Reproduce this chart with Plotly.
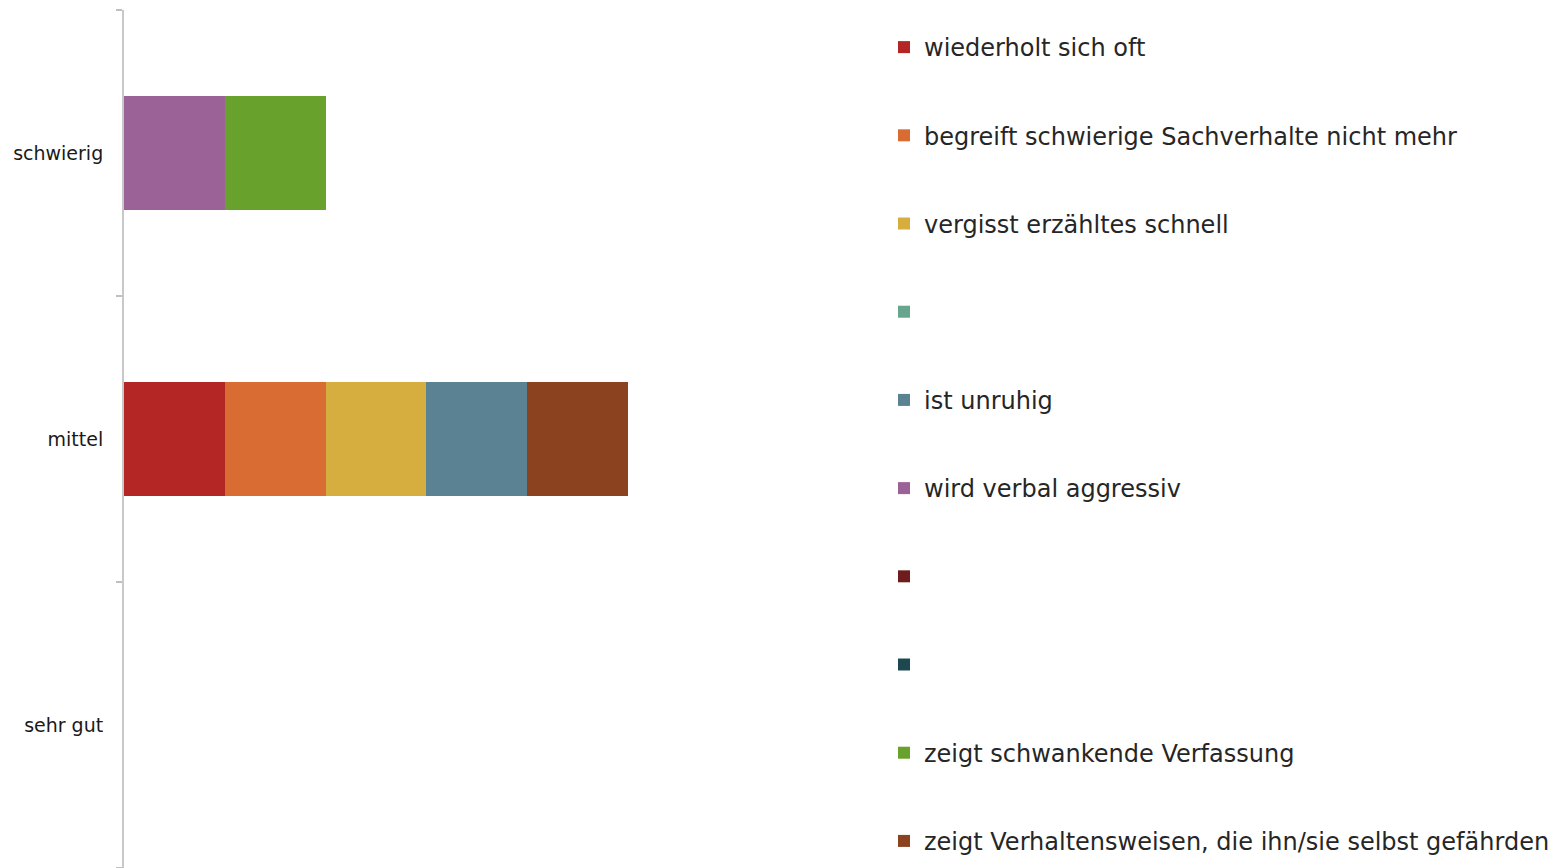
import plotly.graph_objects as go

categories = ["sehr gut", "mittel", "schwierig"]

series_names = [
    "wiederholt sich oft",
    "begreift schwierige Sachverhalte nicht mehr",
    "vergisst erzähltes schnell",
    " ",
    "ist unruhig",
    "wird verbal aggressiv",
    "  ",
    "   ",
    "zeigt schwankende Verfassung",
    "zeigt Verhaltensweisen, die ihn/sie selbst gefährden",
]

# values per series for [sehr gut, mittel, schwierig]
wiederholt = [0, 1, 0]
begreift = [0, 1, 0]
vergisst = [0, 1, 0]
leer1 = [0, 0, 0]
unruhig = [0, 1, 0]
aggressiv = [0, 0, 1]
leer2 = [0, 0, 0]
leer3 = [0, 0, 0]
schwankend = [0, 0, 1]
gefaehrden = [0, 1, 0]

series_values = [wiederholt, begreift, vergisst, leer1, unruhig,
                 aggressiv, leer2, leer3, schwankend, gefaehrden]

colors = ["#B42626", "#D86C32", "#D6AE40", "#68A58F", "#5A8293",
          "#9A6297", "#6E1C1C", "#1E4850", "#68A12B", "#8A421F"]

fig = go.Figure()
for i, (name, vals, col) in enumerate(zip(series_names, series_values, colors)):
    fig.add_trace(go.Bar(
        y=categories, x=vals, name=name, orientation="h",
        marker=dict(color=col, line=dict(width=0)),
        legendgroup=f"g{i}",
    ))

fig.update_layout(
    width=1566, height=868,
    barmode="stack",
    bargap=0.6,
    paper_bgcolor="white", plot_bgcolor="white",
    margin=dict(l=124, r=686, t=10, b=0),
    font=dict(family="DejaVu Sans", color="#222222"),
    showlegend=True,
    legend=dict(
        x=1.0053, xanchor="left", y=0.9825, yanchor="top",
        font=dict(size=24, color="#262626"),
        tracegroupgap=54,
        traceorder="grouped",
        itemclick=False,
    ),
    xaxis=dict(range=[0, 7.5], visible=False, fixedrange=True),
    yaxis=dict(
        type="category",
        categoryorder="array", categoryarray=categories,
        range=[-0.5, 2.5],
        showline=True, linecolor="#C8C8C8", linewidth=2,
        ticks="outside", ticklen=6, tickcolor="#BFBFBF", tickwidth=1.5,
        tickson="boundaries",
        showgrid=False, zeroline=False,
        tickfont=dict(size=19, color="#1A1A1A"),
        ticklabelstandoff=15,
    ),
)

fig.write_html("out.html")
